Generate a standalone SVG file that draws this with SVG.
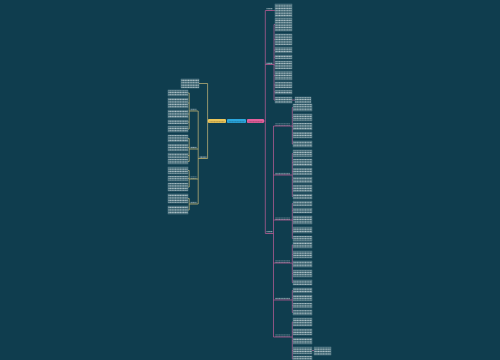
<svg xmlns="http://www.w3.org/2000/svg" width="500" height="360" viewBox="0 0 500 360">
<defs>
<pattern id="tx" width="2.6" height="2.4" patternUnits="userSpaceOnUse"><rect width="2.6" height="2.4" fill="#1f4c5b"/><rect x="0.25" y="0.5" width="2.05" height="1.3" fill="#e4ecef" opacity="0.8"/></pattern>
<pattern id="tx2" width="2.6" height="2.4" patternUnits="userSpaceOnUse"><rect x="0.25" y="0.5" width="2.05" height="1.2" fill="#dfe8eb" opacity="0.7"/></pattern>
<pattern id="txd" width="2.6" height="4" patternUnits="userSpaceOnUse"><rect x="0.25" y="1.4" width="2.05" height="1.3" fill="#000" opacity="0.35"/></pattern>
<style>
.cl{fill:none;stroke:#cdbb7a;stroke-width:.7}
.cr{fill:none;stroke:#c25e9a;stroke-width:.7}
.lf{fill:url(#tx);stroke:#6d909b;stroke-width:.4}
.lt{fill:url(#tx2)}
.uly{stroke:#d8c070;stroke-width:.7}
.ulp{stroke:#cf5a98;stroke-width:.7}
</style>
</defs>
<rect width="500" height="360" fill="#0f3d4e"/>

<g id="connectors">
<path class="cl" d="M208 121 H207.6 M207.6 83.5 V158.5 M199 83.5 H207.6 M207 158.5 H207.6 M199 158.5 H198.2 M198.2 111 V204 M197 111 H198.2 M197 149 H198.2 M197 179 H198.2 M197 204 H198.2
M189.2 93 V129 M188 93 H189.2 M188 103 H189.2 M188 114 H189.2 M188 122 H189.2 M188 129 H189.2 M189.2 111 H190
M189.2 138.5 V161.5 M188 138.5 H189.2 M188 147.5 H189.2 M188 155.5 H189.2 M188 161.5 H189.2 M189.2 149 H190
M189.2 170.5 V187 M188 170.5 H189.2 M188 178.5 H189.2 M188 187 H189.2 M189.2 179 H190
M189.2 198.5 V210 M188 198.5 H189.2 M188 210 H189.2 M189.2 204 H190"/>
<path class="cr" d="M264 121 H265.3 M265.3 10.5 V233.5 M265.3 10.5 H266 M265.3 64.5 H266 M265.3 233.5 H266 M273 10.5 H275
M273 64.5 H274 M274 24.5 V100 M274 24.5 H275 M274 39.5 H275 M274 50 H275 M274 57 H275 M274 65 H275 M274 75.5 H275 M274 85 H275 M274 92 H275 M274 100 H275 M292 100 H295
M273 233.5 H273.5 M273.5 126 V337 M273.5 126 H274 M273.5 175 H274 M273.5 220 H274 M273.5 263 H274 M273.5 300 H274 M273.5 337 H274
M291 126 H292.3 M292.3 107.5 V144 M292.3 107.5 H293 M292.3 117.5 H293 M292.3 126.5 H293 M292.3 135 H293 M292.3 144 H293
M291 175 H292.3 M292.3 153.5 V196.5 M292.3 153.5 H293 M292.3 162.5 H293 M292.3 171.5 H293 M292.3 180 H293 M292.3 188.5 H293 M292.3 196.5 H293
M291 220 H292.3 M292.3 203.5 V238.5 M292.3 203.5 H293 M292.3 210.5 H293 M292.3 220 H293 M292.3 230 H293 M292.3 238.5 H293
M291 263 H292.3 M292.3 245 V282.5 M292.3 245 H293 M292.3 254.5 H293 M292.3 264 H293 M292.3 273.5 H293 M292.3 282.5 H293
M291 300 H292.3 M292.3 290.5 V312.5 M292.3 290.5 H293 M292.3 298 H293 M292.3 305.5 H293 M292.3 312.5 H293
M291 337 H292.3 M292.3 322 V359 M292.3 322 H293 M292.3 332 H293 M292.3 341 H293 M292.3 350.5 H293 M292.3 359 H293 M312 350.5 H314"/>
</g>

<g id="root"><rect x="227" y="119" width="19" height="4" rx="1" fill="#2ba8df"/><rect x="228.5" y="119.6" width="16" height="2.8" fill="url(#txd)"/></g>
<g id="left-main"><rect x="208" y="119" width="18" height="4" rx="1" fill="#ecc65a"/><rect x="209.5" y="119.6" width="15" height="2.8" fill="url(#txd)"/></g>
<g id="right-main"><rect x="247" y="119" width="17" height="4" rx="1" fill="#e4609c"/><rect x="248.5" y="119.6" width="14" height="2.8" fill="url(#txd)"/></g>

<g id="l-top"><rect class="lf" x="181" y="79" width="18" height="9"/></g>
<g id="l-a"><rect class="lt" x="199.5" y="156" width="7" height="2.2"/><line class="uly" x1="199" y1="158.5" x2="207" y2="158.5"/></g>
<g id="l-b1"><rect class="lt" x="190.5" y="108.6" width="6" height="2.2"/><line class="uly" x1="190" y1="111" x2="197" y2="111"/></g>
<g id="l-b2"><rect class="lt" x="190.5" y="146.6" width="6" height="2.2"/><line class="uly" x1="190" y1="149" x2="197" y2="149"/></g>
<g id="l-b3"><rect class="lt" x="190.5" y="176.6" width="6" height="2.2"/><line class="uly" x1="190" y1="179" x2="197" y2="179"/></g>
<g id="l-b4"><rect class="lt" x="190.5" y="201.6" width="6" height="2.2"/><line class="uly" x1="190" y1="204" x2="197" y2="204"/></g>

<g id="l-leaf1"><rect class="lf" x="168" y="90" width="20" height="6"/></g>
<g id="l-leaf2"><rect class="lf" x="168" y="98" width="20" height="10"/></g>
<g id="l-leaf3"><rect class="lf" x="168" y="110" width="20" height="8"/></g>
<g id="l-leaf4"><rect class="lf" x="168" y="120" width="20" height="4"/></g>
<g id="l-leaf5"><rect class="lf" x="168" y="126" width="20" height="6"/></g>
<g id="l-leaf6"><rect class="lf" x="168" y="135" width="20" height="7"/></g>
<g id="l-leaf7"><rect class="lf" x="168" y="144" width="20" height="7"/></g>
<g id="l-leaf8"><rect class="lf" x="168" y="153" width="20" height="5"/></g>
<g id="l-leaf9"><rect class="lf" x="168" y="159" width="20" height="5"/></g>
<g id="l-leaf10"><rect class="lf" x="168" y="167" width="20" height="7"/></g>
<g id="l-leaf11"><rect class="lf" x="168" y="176" width="20" height="5"/></g>
<g id="l-leaf12"><rect class="lf" x="168" y="183" width="20" height="8"/></g>
<g id="l-leaf13"><rect class="lf" x="168" y="194" width="20" height="9"/></g>
<g id="l-leaf14"><rect class="lf" x="168" y="206" width="20" height="8"/></g>

<g id="r1"><rect class="lt" x="266.5" y="8.1" width="6" height="2.2"/><line class="ulp" x1="266" y1="10.5" x2="273" y2="10.5"/></g>
<g id="r2"><rect class="lt" x="266.5" y="62.1" width="6" height="2.2"/><line class="ulp" x1="266" y1="64.5" x2="273" y2="64.5"/></g>
<g id="r3"><rect class="lt" x="266.5" y="231.1" width="6" height="2.2"/><line class="ulp" x1="266" y1="233.5" x2="273" y2="233.5"/></g>

<g id="r1-leaf1"><rect class="lf" x="275" y="4" width="17" height="13"/></g>
<g id="r2-leaf1"><rect class="lf" x="275" y="18" width="17" height="13"/></g>
<g id="r2-leaf2"><rect class="lf" x="275" y="34" width="17" height="11"/></g>
<g id="r2-leaf3"><rect class="lf" x="275" y="47" width="17" height="6"/></g>
<g id="r2-leaf4"><rect class="lf" x="275" y="55" width="17" height="4"/></g>
<g id="r2-leaf5"><rect class="lf" x="275" y="61" width="17" height="8"/></g>
<g id="r2-leaf6"><rect class="lf" x="275" y="71" width="17" height="9"/></g>
<g id="r2-leaf7"><rect class="lf" x="275" y="82" width="17" height="6"/></g>
<g id="r2-leaf8"><rect class="lf" x="275" y="90" width="17" height="4"/></g>
<g id="r2-leaf9"><rect class="lf" x="275" y="97" width="17" height="6"/></g>
<g id="r2-leaf9-sub"><rect class="lf" x="295" y="97" width="16" height="6"/></g>

<g id="r3-c1"><rect class="lt" x="275" y="123.6" width="15" height="2.2"/><line class="ulp" x1="274" y1="126" x2="291" y2="126"/></g>
<g id="r3-c2"><rect class="lt" x="275" y="172.6" width="15" height="2.2"/><line class="ulp" x1="274" y1="175" x2="291" y2="175"/></g>
<g id="r3-c3"><rect class="lt" x="275" y="217.6" width="15" height="2.2"/><line class="ulp" x1="274" y1="220" x2="291" y2="220"/></g>
<g id="r3-c4"><rect class="lt" x="275" y="260.6" width="15" height="2.2"/><line class="ulp" x1="274" y1="263" x2="291" y2="263"/></g>
<g id="r3-c5"><rect class="lt" x="275" y="297.6" width="15" height="2.2"/><line class="ulp" x1="274" y1="300" x2="291" y2="300"/></g>
<g id="r3-c6"><rect class="lt" x="275" y="334.6" width="15" height="2.2"/><line class="ulp" x1="274" y1="337" x2="291" y2="337"/></g>

<g id="c1-l1"><rect class="lf" x="293" y="104" width="19" height="7"/></g>
<g id="c1-l2"><rect class="lf" x="293" y="114" width="19" height="7"/></g>
<g id="c1-l3"><rect class="lf" x="293" y="123" width="19" height="7"/></g>
<g id="c1-l4"><rect class="lf" x="293" y="132" width="19" height="6"/></g>
<g id="c1-l5"><rect class="lf" x="293" y="141" width="19" height="6"/></g>
<g id="c2-l1"><rect class="lf" x="293" y="150" width="19" height="7"/></g>
<g id="c2-l2"><rect class="lf" x="293" y="159" width="19" height="7"/></g>
<g id="c2-l3"><rect class="lf" x="293" y="168" width="19" height="7"/></g>
<g id="c2-l4"><rect class="lf" x="293" y="177" width="19" height="6"/></g>
<g id="c2-l5"><rect class="lf" x="293" y="185" width="19" height="7"/></g>
<g id="c2-l6"><rect class="lf" x="293" y="194" width="19" height="5"/></g>
<g id="c3-l1"><rect class="lf" x="293" y="201" width="19" height="5"/></g>
<g id="c3-l2"><rect class="lf" x="293" y="208" width="19" height="5"/></g>
<g id="c3-l3"><rect class="lf" x="293" y="216" width="19" height="8"/></g>
<g id="c3-l4"><rect class="lf" x="293" y="227" width="19" height="6"/></g>
<g id="c3-l5"><rect class="lf" x="293" y="236" width="19" height="5"/></g>
<g id="c4-l1"><rect class="lf" x="293" y="242" width="19" height="6"/></g>
<g id="c4-l2"><rect class="lf" x="293" y="251" width="19" height="7"/></g>
<g id="c4-l3"><rect class="lf" x="293" y="261" width="19" height="6"/></g>
<g id="c4-l4"><rect class="lf" x="293" y="270" width="19" height="7"/></g>
<g id="c4-l5"><rect class="lf" x="293" y="280" width="19" height="5"/></g>
<g id="c5-l1"><rect class="lf" x="293" y="288" width="19" height="5"/></g>
<g id="c5-l2"><rect class="lf" x="293" y="295" width="19" height="6"/></g>
<g id="c5-l3"><rect class="lf" x="293" y="303" width="19" height="5"/></g>
<g id="c5-l4"><rect class="lf" x="293" y="310" width="19" height="5"/></g>
<g id="c6-l1"><rect class="lf" x="293" y="318" width="19" height="8"/></g>
<g id="c6-l2"><rect class="lf" x="293" y="329" width="19" height="6"/></g>
<g id="c6-l3"><rect class="lf" x="293" y="338" width="19" height="6"/></g>
<g id="c6-l4"><rect class="lf" x="293" y="347" width="19" height="7"/></g>
<g id="c6-l4-sub"><rect class="lf" x="314" y="347" width="17" height="8"/></g>
<g id="c6-l5"><rect class="lf" x="293" y="356" width="19" height="6"/></g>
</svg>
